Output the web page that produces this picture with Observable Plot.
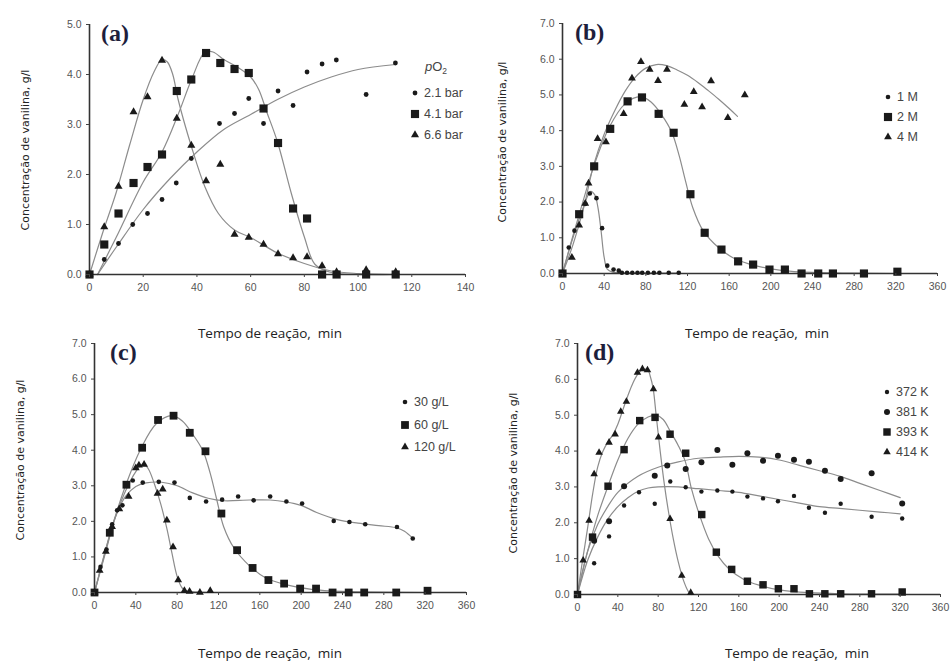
<!DOCTYPE html>
<html><head><meta charset="utf-8">
<script src="https://cdn.jsdelivr.net/npm/d3@7"></script>
<script src="https://cdn.jsdelivr.net/npm/@observablehq/plot@0.6"></script>
<style>
body{margin:0;background:#fff;}
#root{position:relative;width:950px;height:664px;overflow:hidden;background:#fff;font-family:"Liberation Sans",Arial,sans-serif;}
.panel{position:absolute;}
.ptitle{position:absolute;font-family:"Liberation Serif","DejaVu Serif",serif;font-weight:bold;font-size:24px;color:#1e1e3c;line-height:1;}
.ytitle{position:absolute;font-family:"DejaVu Sans",sans-serif;font-size:11px;color:#222;white-space:nowrap;transform:translate(-50%,-50%) rotate(-90deg);}
.xtitle{position:absolute;font-family:"Open Sans",sans-serif;font-size:13.5px;color:#222;white-space:pre;transform:translate(-50%,-50%);}
.lrow{position:absolute;font-family:"Liberation Sans",Arial,sans-serif;font-size:12.5px;color:#444;white-space:nowrap;transform:translateY(-50%);display:flex;align-items:center;}
.lrow svg{margin-right:3px;}
.ltitle{position:absolute;font-family:"Liberation Sans",Arial,sans-serif;font-size:13px;color:#444;white-space:nowrap;transform:translateY(-50%);}
.ltitle .sub{font-size:8.5px;position:relative;top:3px;}
</style>
</head><body><div id="root"></div>
<script>
// ---------- Panel (a): pO2 ----------
const a_t_21 = [0,5.5,10.8,16.1,21.6,27,32.3,37.9,48.4,54,59.3,64.8,70.2,75.8,81,86.6,91.9,103,113.9];
const a_c_21 = [0,0.3,0.62,1.0,1.22,1.5,1.83,2.32,3.02,3.22,3.52,3.02,3.67,3.38,4.05,4.21,4.29,3.6,4.23];
const a_t_41 = [0,5.5,10.8,16.4,21.6,27,32.5,37.9,43.4,48.7,54,59.3,64.8,70.2,75.8,81,86.6,92,103,114];
const a_c_41 = [0,0.6,1.22,1.83,2.15,2.4,3.67,3.9,4.43,4.23,4.11,4.03,3.32,2.63,1.32,1.12,0,0,0,0];
const a_t_66 = [0,5.5,10.8,16.4,21.6,27,32.5,37.9,43.4,48.7,54,59.3,64.8,70.2,75.8,81,86.6,92,103,114];
const a_c_66 = [0,0.95,1.76,3.25,3.55,4.28,3.12,2.58,1.87,2.2,0.8,0.74,0.6,0.41,0.33,0.35,0.17,0.05,0.09,0.05];
const a_fit_t_21 = [3,10,20,30,40,50,60,70,80,90,100,114];
const a_fit_c_21 = [0,0.55,1.3,1.92,2.45,2.9,3.2,3.5,3.75,3.95,4.1,4.2];
const a_fit_t_41 = [3,10,20,27,33,38,43,46,50,55,60,63,66,70,75,80,84,90,100,114];
const a_fit_c_41 = [0,0.75,1.85,2.45,3.2,3.9,4.45,4.45,4.3,4.15,3.95,3.7,3.25,2.65,1.65,0.75,0.2,0.04,0,0];
const a_fit_t_66 = [0,5,10,15,20,24,27,29,31,33,38,43,48,54,60,70,80,90,100,114];
const a_fit_c_66 = [0,0.85,1.65,2.6,3.5,4.05,4.3,4.25,4.0,3.5,2.55,1.75,1.22,0.89,0.74,0.43,0.22,0.07,0.02,0];
const a_xticks = [0,20,40,60,80,100,120,140];
const a_yticks = [0,1,2,3,4,5];
const a_labels = ["2.1 bar","4.1 bar","6.6 bar"];

// ---------- Panel (b): NaOH ----------
const b_t_1 = [0,6,11.5,22,26.2,32.6,38,43,49,54,57,62,67,72,76.5,82,87.7,93,102,111.6];
const b_c_1 = [0,0.73,1.2,1.95,2.24,2.11,1.27,0.22,0.11,0.08,0.02,0.02,0.02,0.02,0.02,0.02,0.02,0.02,0.02,0.02];
const b_t_2 = [0,16,30.4,45.8,62.5,76.3,92.3,106.7,122.8,136.5,152.6,168.6,183,198.7,213.5,229.5,245.5,259.6,289.4,321.5];
const b_c_2 = [0,1.66,3.0,4.05,4.82,4.93,4.47,3.94,2.22,1.14,0.67,0.34,0.25,0.11,0.11,0,0,0,0,0.05];
const b_t_4 = [0,9,16,21.8,25,33.7,41.7,58.7,66.7,75.3,83.7,91.7,100.3,117,126,134,142.6,158.7,175];
const b_c_4 = [0,0.45,1.35,1.96,2.53,3.77,3.68,4.47,5.47,5.93,5.71,5.4,5.71,4.73,5.09,4.66,5.39,4.36,5.0];
const b_fit_t_1 = [0,10,20,27,31,34,37,40,43,48,60,112];
const b_fit_c_1 = [0,1.0,1.85,2.3,2.2,1.85,1.2,0.45,0.12,0.04,0.02,0.01];
const b_fit_t_2 = [0,8,16,30,45,60,75,85,95,105,112,118,125,135,150,165,185,210,240,280,320];
const b_fit_c_2 = [0,0.85,1.65,3.0,4.1,4.75,4.95,4.8,4.45,3.95,3.3,2.6,1.85,1.2,0.72,0.42,0.22,0.09,0.03,0.01,0];
const b_fit_t_4 = [0,10,20,30,40,50,60,70,80,90,100,110,120,130,140,150,160,168];
const b_fit_c_4 = [0,0.8,1.8,3.05,3.9,4.55,5.1,5.5,5.75,5.85,5.82,5.7,5.55,5.35,5.12,4.88,4.62,4.4];
const b_xticks = [0,40,80,120,160,200,240,280,320,360];
const b_yticks = [0,1,2,3,4,5,6,7];
const b_labels = ["1 M","2 M","4 M"];

// ---------- Panel (c): lignin ----------
const c_t_30 = [0,5.8,11.6,17.1,21.9,27,37,46.7,62.2,77.4,92.2,108,123.5,139,154,170,185.7,200.9,231.5,246.7,262,292.7,308];
const c_c_30 = [0,0.72,1.21,1.92,2.31,2.45,3.15,3.09,3.11,3.09,2.66,2.56,2.61,2.7,2.59,2.7,2.56,2.5,2.01,1.98,1.92,1.84,1.52];
const c_t_60 = [0,14.8,30.9,46.1,61.5,76.5,92.2,107.4,122.8,138,153,168.3,183.5,199,214.4,230.4,246,261,292,322.3];
const c_c_60 = [0,1.68,3.03,4.07,4.85,4.97,4.49,3.97,2.22,1.19,0.69,0.35,0.25,0.11,0.11,0,0,0,0,0.05];
const c_t_120 = [0,5,11,17,24,33,40,43,48,61,66,70,76,81,87,92,102,112];
const c_c_120 = [0,0.62,1.15,1.85,2.35,2.7,3.5,3.58,3.6,2.78,2.9,2.03,1.28,0.35,0.05,0.03,0,0.05];
const c_fit_t_30 = [0,10,20,30,40,50,65,80,95,110,125,150,170,185,200,215,235,255,275,292,300,308];
const c_fit_c_30 = [0,1.1,2.1,2.7,2.98,3.08,3.1,3.0,2.8,2.65,2.58,2.6,2.6,2.55,2.45,2.25,2.05,1.95,1.88,1.82,1.72,1.52];
const c_fit_t_60 = [0,15,30,45,60,75,85,95,105,112,118,125,135,150,165,185,210,240,320];
const c_fit_c_60 = [0,1.65,3.0,4.05,4.75,4.97,4.82,4.45,3.98,3.35,2.65,1.85,1.25,0.75,0.42,0.22,0.09,0.03,0];
const c_fit_t_120 = [0,10,20,30,40,47,52,58,64,70,75,80,85,90,100,112];
const c_fit_c_120 = [0,1.05,2.1,2.85,3.4,3.62,3.48,3.05,2.5,1.8,1.1,0.45,0.12,0.04,0.01,0];
const c_xticks = [0,40,80,120,160,200,240,280,320,360];
const c_yticks = [0,1,2,3,4,5,6,7];
const c_labels = ["30 g/L","60 g/L","120 g/L"];

// ---------- Panel (d): temperature ----------
const d_t_372 = [0,16.5,31.3,46.2,61,76.6,92,107.3,122.9,138.7,153.6,168.5,184,198.8,214.7,229.5,245.4,261,291.7,322];
const d_c_372 = [0,0.87,1.62,2.48,2.85,2.53,3.15,2.99,2.87,2.9,2.87,2.73,2.68,2.6,2.75,2.42,2.28,2.53,2.17,2.12];
const d_t_381 = [0,16.5,31.3,46.2,76.6,89,107.3,122.9,138.7,153.6,168.5,184,198.8,214.7,229.5,245.4,261,291.7,322];
const d_c_381 = [0,1.5,2.04,3.02,3.31,3.6,3.5,3.69,4.03,3.62,3.94,3.73,3.87,3.76,3.7,3.45,3.22,3.38,2.54];
const d_t_393 = [0,14.9,30.3,46.2,61.7,76.9,91.8,107.3,123.2,137.7,152.9,168.5,184,199.2,214.7,230,245.3,261,291.6,322];
const d_c_393 = [0,1.6,3.02,4.04,4.85,4.94,4.47,3.94,2.23,1.18,0.7,0.37,0.27,0.16,0.16,0.02,0.02,0.02,0.02,0.07];
const d_t_414 = [0,5.6,11.5,16.5,21.4,31.3,37.3,42.9,48.5,59.5,64.4,69.4,75.3,80.3,91.8,103.4,112.3];
const d_c_414 = [0,0.95,2.06,3.36,3.96,4.24,4.47,5.1,5.38,6.19,6.29,6.26,5.73,4.38,2.11,0.53,0.05];
const d_fit_t_372 = [0,10,20,30,40,50,60,70,80,100,120,140,160,180,200,220,240,260,280,300,320];
const d_fit_c_372 = [0,0.95,1.6,2.1,2.45,2.7,2.88,2.97,3.0,3.0,2.95,2.9,2.85,2.75,2.65,2.55,2.45,2.4,2.35,2.3,2.25];
const d_fit_t_381 = [0,10,20,30,40,60,80,100,120,140,160,180,200,220,240,260,280,300,320];
const d_fit_c_381 = [0,1.2,1.95,2.45,2.85,3.3,3.55,3.7,3.8,3.83,3.85,3.83,3.75,3.6,3.45,3.3,3.1,2.9,2.7];
const d_fit_t_393 = [0,10,20,30,40,50,60,70,78,85,92,100,107,113,120,130,140,150,165,180,200,230,260,320];
const d_fit_c_393 = [0,1.2,2.2,3.0,3.75,4.35,4.75,4.95,5.0,4.88,4.55,4.15,3.7,2.95,2.3,1.55,1.05,0.72,0.42,0.26,0.13,0.05,0.02,0.01];
const d_fit_t_414 = [0,5,10,15,20,25,30,35,40,45,50,55,60,65,70,72,75,78,82,86,90,95,100,105,110,113];
const d_fit_c_414 = [0,0.95,1.85,2.8,3.55,3.98,4.25,4.45,4.75,5.15,5.55,5.9,6.15,6.28,6.25,6.1,5.75,5.0,4.0,3.1,2.35,1.55,0.9,0.4,0.08,0];
const d_xticks = [0,40,80,120,160,200,240,280,320,360];
const d_yticks = [0,1,2,3,4,5,6,7];
const d_labels = ["372 K","381 K","393 K","414 K"];

const yTitle = "Concentração de vanilina, g/l";
const xTitle = "Tempo de reação,  min";

// ---------- helpers ----------
const zip = (t, c) => t.map((v, i) => ({t: v, c: c[i]}));
const INK = "#1a1a1a", CURVE = "#8c8c8c";

function makePanel(cfg) {
  const marks = [];
  cfg.curves.forEach(([t, c]) => marks.push(Plot.line(zip(t, c), {x: "t", y: "c", curve: "catmull-rom", stroke: CURVE, strokeWidth: 1.2})));
  marks.push(Plot.ruleX([0], {stroke: "#333", strokeWidth: 1.6}));
  marks.push(Plot.ruleY([0], {stroke: "#333", strokeWidth: 1.6}));
  cfg.series.forEach(s => marks.push(Plot.dot(zip(s.t, s.c), {x: "t", y: "c", symbol: s.symbol, r: s.r, fill: INK, stroke: "none"})));
  marks.push(Plot.axisY({ticks: cfg.yticks, tickFormat: d3.format(".1f"), tickSize: 3, tickPadding: 5, fontSize: 10.5, label: null, stroke: "#444", fill: "#555"}));
  marks.push(Plot.axisX({ticks: cfg.xticks, tickFormat: d => String(d), tickSize: 3, tickPadding: 6, fontSize: 10.5, label: null, stroke: "#444", fill: "#555"}));
  return Plot.plot({
    width: cfg.width, height: cfg.height,
    marginLeft: cfg.ml, marginRight: cfg.mr, marginTop: cfg.mt, marginBottom: cfg.mb,
    x: {domain: cfg.xdomain}, y: {domain: cfg.ydomain},
    style: {background: "transparent", fontFamily: "'Liberation Sans', Arial, sans-serif", overflow: "visible"},
    marks
  });
}

const sym = {circle: d3.symbolCircle, square: d3.symbolSquare, triangle: d3.symbolTriangle};
function glyph(type, r) {
  const p = d3.symbol(sym[type], Math.PI * r * r)();
  return `<svg width="12" height="12" viewBox="-6 -6 12 12"><path d="${p}" fill="${INK}"/></svg>`;
}

const root = document.getElementById("root");
function place(el, left, top) { el.style.left = left + "px"; el.style.top = top + "px"; root.appendChild(el); }
function addDiv(cls, html, left, top) { const d = document.createElement("div"); d.className = cls; d.innerHTML = html; place(d, left, top); return d; }
function legend(labels, series, gx, ys) {
  labels.forEach((lab, i) => addDiv("lrow", glyph(series[i].symbol, series[i].r) + `<span>${lab}</span>`, gx - 6, ys[i]));
}

const panels = [
  {left: 0, top: 0, width: 475, height: 300, ml: 89, mr: 10, mt: 24, mb: 26,
   xdomain: [0, 140], ydomain: [0, 5], xticks: a_xticks, yticks: a_yticks,
   series: [{t: a_t_21, c: a_c_21, symbol: "circle", r: 2.4}, {t: a_t_41, c: a_c_41, symbol: "square", r: 4.6}, {t: a_t_66, c: a_c_66, symbol: "triangle", r: 3.0}],
   curves: [[a_fit_t_21, a_fit_c_21], [a_fit_t_41, a_fit_c_41], [a_fit_t_66, a_fit_c_66]],
   labels: a_labels, tag: "(a)", tagPos: [101, 21], yt: [25, 150], xt: [270, 333], lg: [415, [93, 114, 135]]},
  {left: 475, top: 0, width: 475, height: 300, ml: 87, mr: 13, mt: 23, mb: 27,
   xdomain: [0, 360], ydomain: [0, 7], xticks: b_xticks, yticks: b_yticks,
   series: [{t: b_t_1, c: b_c_1, symbol: "circle", r: 2.3}, {t: b_t_2, c: b_c_2, symbol: "square", r: 4.6}, {t: b_t_4, c: b_c_4, symbol: "triangle", r: 2.9}],
   curves: [[b_fit_t_1, b_fit_c_1], [b_fit_t_2, b_fit_c_2], [b_fit_t_4, b_fit_c_4]],
   labels: b_labels, tag: "(b)", tagPos: [575, 20], yt: [502, 142], xt: [757, 333], lg: [888, [97, 117, 137]]},
  {left: 0, top: 320, width: 475, height: 300, ml: 94, mr: 9, mt: 23, mb: 28,
   xdomain: [0, 360], ydomain: [0, 7], xticks: c_xticks, yticks: c_yticks,
   series: [{t: c_t_30, c: c_c_30, symbol: "circle", r: 2.3}, {t: c_t_60, c: c_c_60, symbol: "square", r: 4.4}, {t: c_t_120, c: c_c_120, symbol: "triangle", r: 2.9}],
   curves: [[c_fit_t_30, c_fit_c_30], [c_fit_t_60, c_fit_c_60], [c_fit_t_120, c_fit_c_120]],
   labels: c_labels, tag: "(c)", tagPos: [110, 340], yt: [20, 460], xt: [270, 653], lg: [405, [402, 425, 447]]},
  {left: 475, top: 320, width: 475, height: 300, ml: 102, mr: 10, mt: 23, mb: 26,
   xdomain: [0, 360], ydomain: [0, 7], xticks: d_xticks, yticks: d_yticks,
   series: [{t: d_t_372, c: d_c_372, symbol: "circle", r: 2.2}, {t: d_t_381, c: d_c_381, symbol: "circle", r: 3.0}, {t: d_t_393, c: d_c_393, symbol: "square", r: 4.2}, {t: d_t_414, c: d_c_414, symbol: "triangle", r: 2.8}],
   curves: [[d_fit_t_372, d_fit_c_372], [d_fit_t_381, d_fit_c_381], [d_fit_t_393, d_fit_c_393], [d_fit_t_414, d_fit_c_414]],
   labels: d_labels, tag: "(d)", tagPos: [585, 340], yt: [513, 473], xt: [797, 653], lg: [887, [392, 412, 432, 452]]}
];

panels.forEach(p => {
  const svg = makePanel(p);
  const wrap = document.createElement("div");
  wrap.className = "panel";
  wrap.appendChild(svg);
  place(wrap, p.left, p.top);
  addDiv("ptitle", p.tag, p.tagPos[0], p.tagPos[1]);
  addDiv("ytitle", yTitle, p.yt[0], p.yt[1]);
  addDiv("xtitle", xTitle, p.xt[0], p.xt[1]);
  legend(p.labels, p.series, p.lg[0], p.lg[1]);
});
// pO2 legend title for panel (a)
addDiv("ltitle", "<span><i>p</i>O<span class='sub'>2</span></span>", 425, 66);
</script>
</body></html>
